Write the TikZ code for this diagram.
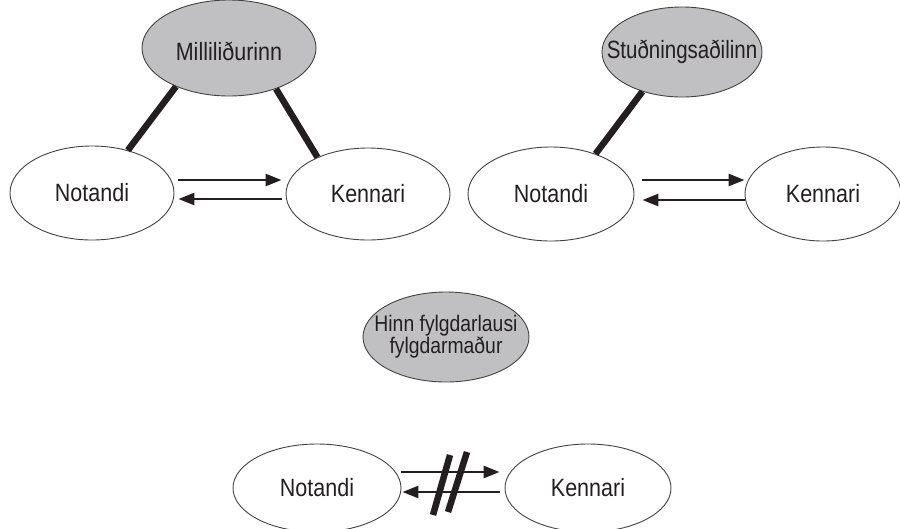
\documentclass[tikz,border=0pt]{standalone}
\usepackage{fontspec}
\setmainfont[FakeStretch=0.86]{Liberation Sans}
\newfontfamily\narrowsans[FakeStretch=0.82]{Liberation Sans}
\usetikzlibrary{arrows.meta,shapes.geometric}
\definecolor{agent}{HTML}{C0C0C2}
\definecolor{ink}{HTML}{231F20}
\tikzset{
  oval/.style={ellipse, draw=ink!85, line width=0.9pt, inner sep=0pt, text=ink,
    font=\fontsize{25}{25}\selectfont},
  gray oval/.style={ellipse, draw=ink!85, line width=0.9pt, inner sep=0pt, fill=agent},
  inside/.style={text=ink, align=center, inner sep=0pt, font=\fontsize{25}{25}\selectfont},
  flow/.style={line width=2.5pt, draw=ink, -{Triangle[length=16pt,width=12pt]}},
  bond/.style={line width=6.5pt, draw=ink},
}
\begin{document}
\begin{tikzpicture}[x=1pt,y=-1pt]
\useasboundingbox (0,0) rectangle (900,528);
% --- group 1 ---
\node[gray oval, minimum width=174pt, minimum height=96pt,
      label={[inside, yshift=-3pt]center:Milliliðurinn}] (M) at (229,48) {};
\node[oval, minimum width=164pt, minimum height=94pt] (N1) at (92,193) {Notandi};
\node[oval, minimum width=164pt, minimum height=92pt] (K1) at (368,194) {Kennari};
\draw[bond] (M.216) -- (N1.50);
\draw[bond] (M.319) -- (K1.144);
\draw[flow] ([shift={(4,-13)}]N1.east) -- ([shift={(-4,-14)}]K1.west);
\draw[flow] ([shift={(-4,5)}]K1.west) -- ([shift={(4,6)}]N1.east);
% --- group 2 ---
\node[gray oval, minimum width=160pt, minimum height=90pt,
      label={[inside, font=\narrowsans\fontsize{25}{25}\selectfont]center:Stuðningsaðilinn}] (S) at (682,52) {};
\node[oval, minimum width=166pt, minimum height=94pt] (N2) at (551,194) {Notandi};
\node[oval, minimum width=156pt, minimum height=94pt] (K2) at (823,194) {Kennari};
\draw[bond] (S.225) -- (N2.42);
\draw[flow] ([shift={(8,-14)}]N2.east) -- ([shift={(0,-14)}]K2.west);
\draw[flow] ([shift={(0,6)}]K2.west) -- ([shift={(8,6)}]N2.east);
% --- group 3 ---
\node[gray oval, minimum width=166pt, minimum height=90pt,
      label={[inside, font=\fontsize{22.5}{19}\selectfont]center:Hinn fylgdarlausi\\fylgdarmaður}] (H) at (446,337) {};
\node[oval, minimum width=168pt, minimum height=88pt] (N3) at (317,488) {Notandi};
\node[oval, minimum width=166pt, minimum height=88pt] (K3) at (588,488) {Kennari};
\draw[flow] ([shift={(0,-16)}]N3.east) -- ([shift={(-5,-16)}]K3.west);
\draw[flow] ([shift={(-5,4)}]K3.west) -- ([shift={(1,4)}]N3.east);
\draw[bond] (450,455) -- (433,515);
\draw[bond] (467,452) -- (448,512);
\end{tikzpicture}
\end{document}
